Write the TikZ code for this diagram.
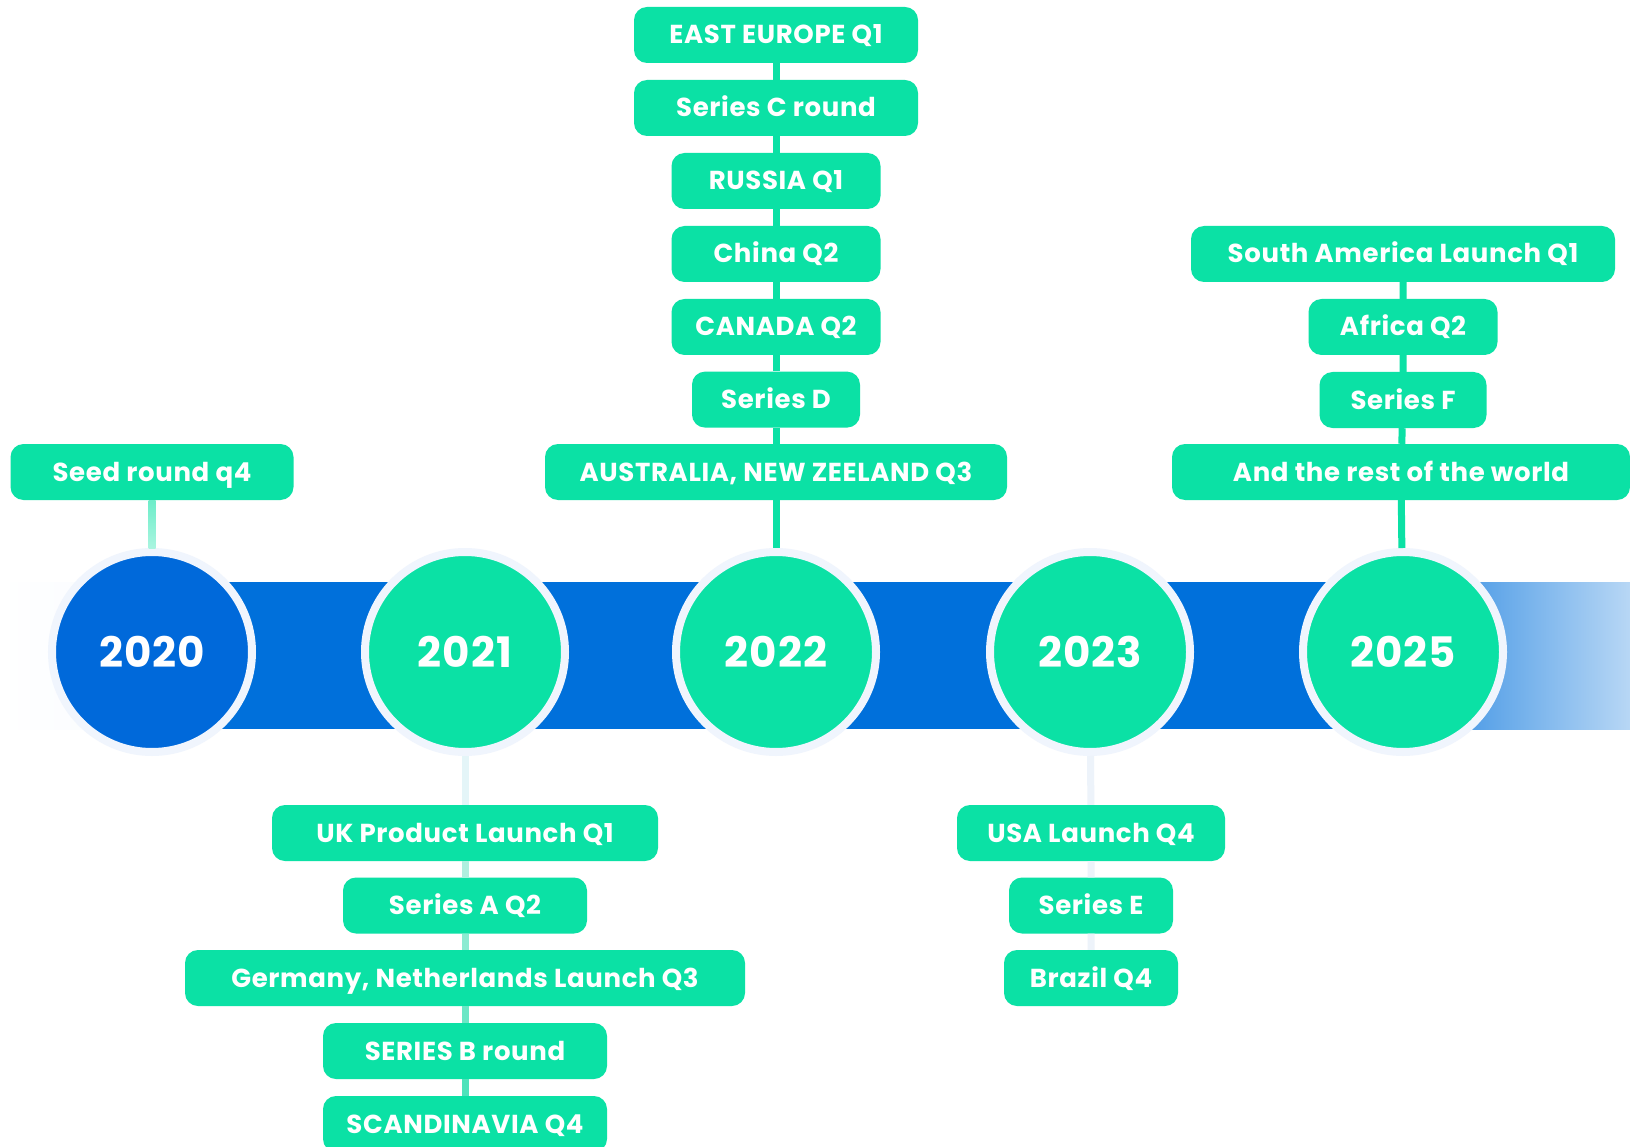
\documentclass[tikz,border=0pt]{standalone}
\usepackage{fontspec}
\setmainfont{Poppins}[LetterSpace=2.5]
\usepackage{tikz}
\usetikzlibrary{calc}
\definecolor{barblue}{HTML}{0070DB}
\definecolor{firstblue}{HTML}{0069DA}
\definecolor{mint}{HTML}{0BE1A5}
\definecolor{ringblue}{HTML}{F0F5FD}
\definecolor{fadeA}{HTML}{E4F5F8}
\definecolor{fadeB}{HTML}{AFEFDF}
\definecolor{fadeC}{HTML}{8CEBD2}
\definecolor{fadeD}{HTML}{6BE7C6}
\definecolor{fadeE}{HTML}{4EE3BB}
\definecolor{fadeF}{HTML}{EDF3FA}
\tikzset{
  year/.style={circle,fill=mint,draw=ringblue,line width=8pt,minimum size=200pt,
    inner sep=0pt,text=white,text height=30pt,text depth=0pt,
    font=\fontsize{42}{42}\selectfont\bfseries},
  milestone/.style={rounded corners=13pt,fill=mint,text=white,minimum height=56pt,
    inner sep=0pt,text height=18pt,text depth=0pt,
    font=\fontsize{26}{26}\selectfont\bfseries},
  link/.style={line width=7pt,mint}
}
\newcommand{\Milestone}[4]{\node[milestone,minimum width=#3] (#1) at (#2) {#4};}

\begin{document}
\begin{tikzpicture}[x=1pt,y=-1pt]
  \fill[white] (0,0) rectangle (1630,1147);
  \useasboundingbox (0,0) rectangle (1630,1147);

  % the band
  \shade[left color=white,right color=barblue!3] (0,582) rectangle (152,729);
  \fill[barblue] (152,582) rectangle (1336,729);
  \shade[left color=barblue,right color=barblue!28] (1336,582) rectangle (1630,729);

  % years
  \node[year,fill=firstblue] (y2020) at (152,652) {2020};
  \node[year] (y2021) at (465,652) {2021};
  \node[year] (y2022) at (776,652) {2022};
  \node[year] (y2023) at (1090,652) {2023};
  \node[year] (y2025) at (1403,652) {2025};

  % 2020
  \Milestone{seed}{152,472}{283}{Seed round q4}
  \shade[top color=mint!60,bottom color=mint!35]
    ($(seed.south)+(-3.5,0)$) rectangle ($(y2020.north)+(3.5,0)$);

  % 2021
  \Milestone{ukq1}{465,833}{386}{UK Product Launch Q1}
  \Milestone{sera}{465,905.5}{244}{Series A Q2}
  \Milestone{gnq3}{465,978}{560}{Germany, Netherlands Launch Q3}
  \Milestone{serb}{465,1051}{284}{SERIES B round}
  \Milestone{scan}{465,1124}{284}{SCANDINAVIA Q4}
  \foreach \a/\b/\c in {y2021/ukq1/fadeA,ukq1/sera/fadeB,sera/gnq3/fadeC,
      gnq3/serb/fadeD,serb/scan/fadeE}
    \draw[link,\c] (\a) -- (\b);

  % 2022
  \Milestone{eeq1}{776,35}{284}{EAST EUROPE Q1}
  \Milestone{serc}{776,108}{284}{Series C round}
  \Milestone{rus}{776,181}{209}{RUSSIA Q1}
  \Milestone{chn}{776,254}{209}{China Q2}
  \Milestone{can}{776,327}{209}{CANADA Q2}
  \Milestone{serd}{776,399.6}{168}{Series D}
  \Milestone{aus}{776,472}{462}{AUSTRALIA, NEW ZEELAND Q3}
  \draw[link] (eeq1) -- (serc) -- (rus) -- (chn) -- (can) -- (serd) -- (aus) -- (y2022);

  % 2023
  \Milestone{usa}{1091,833}{268}{USA Launch Q4}
  \Milestone{sere}{1091,905.5}{164}{Series E}
  \Milestone{bra}{1091,978}{174}{Brazil Q4}
  \draw[link,fadeF] (y2023) -- (usa) -- (sere) -- (bra);

  % 2025
  \Milestone{sam}{1403,254}{424}{South America Launch Q1}
  \Milestone{afr}{1403,327}{189}{Africa Q2}
  \Milestone{serf}{1403,400}{167}{Series F}
  \Milestone{rest}{1401,472}{458}{And the rest of the world}
  \draw[link] (sam) -- (afr) -- (serf) -- (rest) -- (y2025);
\end{tikzpicture}
\end{document}
